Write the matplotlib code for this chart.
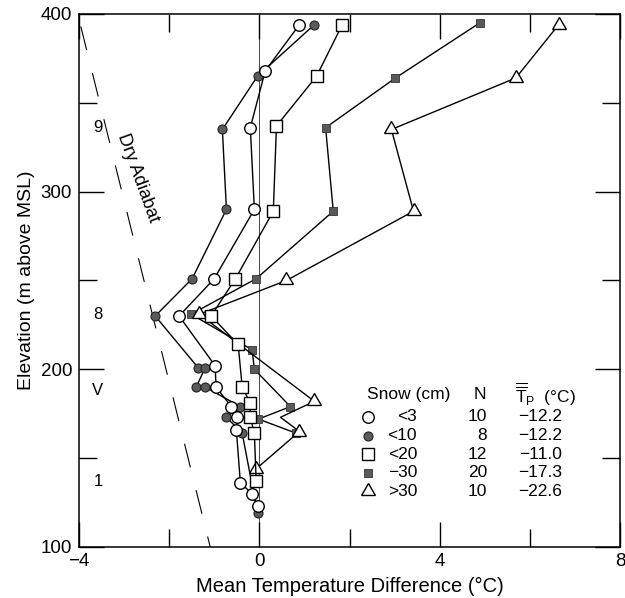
import matplotlib
matplotlib.use("Agg")
import matplotlib.pyplot as plt

plt.rcParams['font.family'] = ['Liberation Sans', 'DejaVu Sans']
plt.rcParams['mathtext.fontset'] = 'custom'
plt.rcParams['mathtext.rm'] = 'Liberation Sans'
plt.rcParams['mathtext.it'] = 'Liberation Sans:italic'

# mean temperature difference (deg C) vs elevation (m above MSL), per snow class
elev_lt3 = [394, 368, 336, 290, 251, 230, 202, 190, 179, 173, 166, 136, 130, 123]
dT_lt3 = [0.89, 0.13, -0.2, -0.11, -1.0, -1.78, -0.98, -0.96, -0.62, -0.49, -0.51, -0.42, -0.16, -0.04]

elev_lt10 = [394, 365, 335, 290, 251, 230, 201, 201, 190, 190, 179, 173, 164, 119]
dT_lt10 = [1.22, -0.04, -0.82, -0.73, -1.49, -2.31, -1.36, -1.2, -1.4, -1.2, -0.42, -0.73, -0.38, -0.04]

elev_lt20 = [394, 365, 337, 289, 251, 230, 214, 190, 181, 173, 164, 137]
dT_lt20 = [1.84, 1.27, 0.38, 0.31, -0.53, -1.07, -0.47, -0.38, -0.2, -0.2, -0.11, -0.07]

elev_30 = [395, 364, 336, 289, 251, 231, 211, 200, 179, 172, 164]
dT_30 = [4.89, 3.02, 1.47, 1.64, -0.07, -1.51, -0.16, -0.11, 0.69, -0.02, 0.82]

elev_gt30 = [394, 364, 335, 289, 250, 231, 182, 173, 165, 144]
dT_gt30 = [6.64, 5.69, 2.93, 3.42, 0.6, -1.33, 1.22, 0.47, 0.89, -0.07]

# dry adiabat reference line end points
adiabat_T = [-3.96, -1.09]
adiabat_z = [393, 100]

# legend table
snow_labels = ['<3', '<10', '<20', '\u221230', '>30']
n_cases = [10, 8, 12, 20, 10]
tp_mean = [-12.2, -12.2, -11.0, -17.3, -22.6]

# layer labels on the left
layer_labels = ['9', '8', 'V', '1']
layer_z = [336, 231, 188, 137]

fig = plt.figure(figsize=(6.25, 5.98), dpi=100)
ax = fig.add_axes([0.1264, 0.0853, 0.8656, 0.8913])

ax.axvline(0, color='#444444', lw=0.7, zorder=1)
ax.plot(adiabat_T, adiabat_z, color='k', lw=0.8, dashes=(22, 21), zorder=1)

gray = '#5a5a5a'
styles = [
    dict(marker='o', ms=6.5, mfc=gray, mec='#222222', mew=0.8),   # <10
    dict(marker='s', ms=5.6, mfc=gray, mec='#333333', mew=0.6),   # -30
    dict(marker=(3, 0, 0), ms=11.5, mfc='white', mec='k', mew=1.0),  # >30
    dict(marker='s', ms=8.5, mfc='white', mec='k', mew=1.0),      # <20
    dict(marker='o', ms=8.3, mfc='white', mec='k', mew=1.0),      # <3
]
series = [(dT_lt10, elev_lt10), (dT_30, elev_30), (dT_gt30, elev_gt30),
          (dT_lt20, elev_lt20), (dT_lt3, elev_lt3)]
for i, ((x, z), st) in enumerate(zip(series, styles)):
    kw = dict(st)
    if i == 2:
        # the 173 m vertex of this profile has no symbol in the original
        kw['markevery'] = [k for k in range(len(x)) if k != 7]
    ax.plot(x, z, color='k', lw=1.0, zorder=3 + i, **kw)

ax.set_xlim(-4, 8)
ax.set_ylim(100, 400)
ax.set_xticks([-4, 0, 4, 8])
ax.set_xticks([-2, 2, 6], minor=True)
ax.set_yticks([100, 200, 300, 400])
ax.set_yticks([150, 250, 350], minor=True)
ax.tick_params(which='both', direction='in', top=True, right=True,
               width=1.0, labelsize=13.5)
ax.tick_params(which='major', length=18, pad=4)
ax.tick_params(which='minor', length=13)
ax.tick_params(axis='y', pad=5)
for s in ax.spines.values():
    s.set_linewidth(1.1)

ax.set_xlabel('Mean Temperature Difference (\u00b0C)', fontsize=14.5, labelpad=5)
ax.set_ylabel('Elevation (m above MSL)', fontsize=14, labelpad=4)

ax.text(-2.69, 308, 'Dry Adiabat', rotation=-70, rotation_mode='anchor',
        ha='center', va='center', fontsize=13)
for lab, z in zip(layer_labels, layer_z):
    ax.text(-3.58, z, lab, ha='center', va='center', fontsize=12)

# legend table (axes fraction)
hy = 0.287
ax.text(0.532, hy, 'Snow (cm)', transform=ax.transAxes, ha='left', va='center', fontsize=12.5)
ax.text(0.741, hy, 'N', transform=ax.transAxes, ha='center', va='center', fontsize=12.5)
ax.text(0.806, hy, r'$\overline{\overline{\mathrm{T}}}_{\mathrm{P}}$  (' + '\u00b0C)',
        transform=ax.transAxes, ha='left', va='center', fontsize=12.5)
leg_order = [4, 0, 3, 1, 2]
for r in range(5):
    y = 0.2439 - r * 0.0349
    st = dict(styles[leg_order[r]])
    ax.plot([0.534], [y], transform=ax.transAxes, color='k', ls='none',
            clip_on=False, zorder=10, **st)
    ax.text(0.6248, y, snow_labels[r], transform=ax.transAxes, ha='right', va='center', fontsize=12.5)
    ax.text(0.754, y, str(n_cases[r]), transform=ax.transAxes, ha='right', va='center', fontsize=12.5)
    ax.text(0.893, y, f'{tp_mean[r]:.1f}'.replace('-', '\u2212'), transform=ax.transAxes,
            ha='right', va='center', fontsize=12.5)

fig.savefig('out.png', dpi=100)
